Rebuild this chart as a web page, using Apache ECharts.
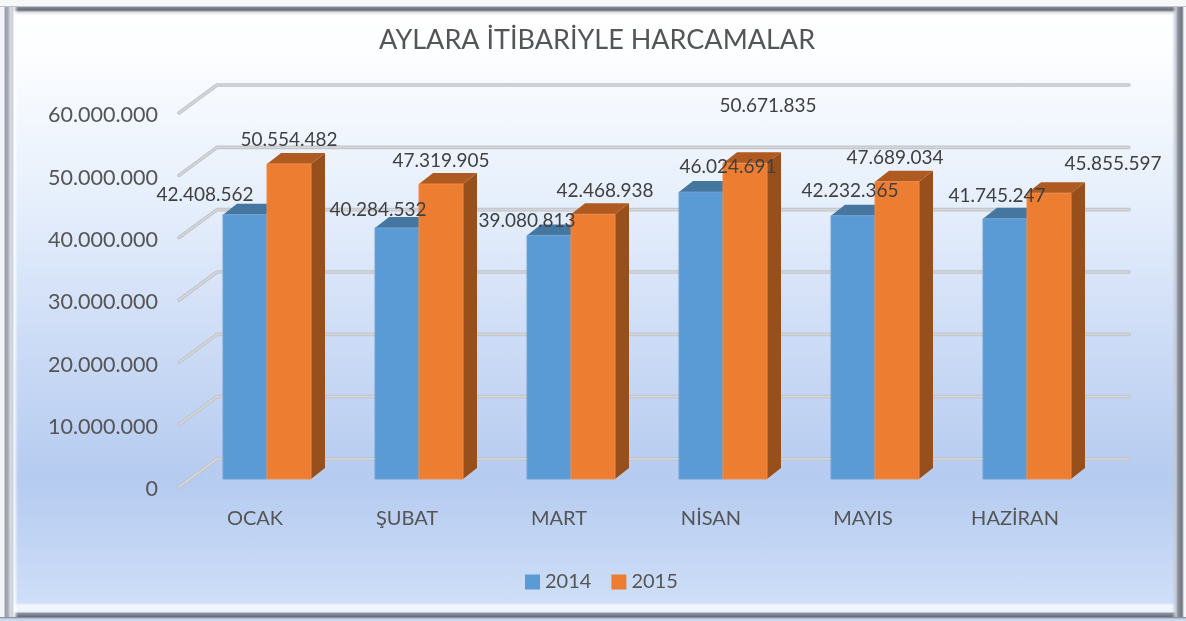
<!DOCTYPE html>
<html>
<head>
<meta charset="utf-8">
<title>AYLARA İTİBARİYLE HARCAMALAR</title>
<script src="https://cdn.jsdelivr.net/npm/echarts@6/dist/echarts.min.js"></script>
<style>
  html, body { margin: 0; padding: 0; background: #fff; }
  #wrap { position: relative; width: 1186px; height: 621px; overflow: hidden; }
  #main { width: 1186px; height: 621px;
    background: linear-gradient(180deg, #ffffff 0, #fdfeff 50px, #e6effc 200px, #cddcf6 340px, #b5cbf0 480px, #c1d4f3 540px, #cfdff8 605px); }
  .edge { position: absolute; pointer-events: none; }
  #fl { left: 0; top: 7px; width: 18px; height: 610px; background: linear-gradient(90deg, #f2f4f7 0, #f2f4f7 4px, #9da1a9 5px, #a6aab3 8px, #d4d8e0 10px, #cdd2dc 13px, rgba(255,255,255,.9) 14px, rgba(255,255,255,0) 18px); }
  #fr { right: 0; top: 7px; width: 14px; height: 610px; background: linear-gradient(90deg, rgba(255,255,255,0) 0, #c3c9d4 4px, #8b8f99 6px, #6f747e 10px, #aeb2ba 11px, #f4f6f9 12px); }
  #ft { left: 0; top: 0; width: 1186px; height: 16px; background: linear-gradient(180deg, #f6f7f9 0, #f6f7f9 6px, #8a8e96 7px, #666a72 10px, #d6d8dd 12px, rgba(255,255,255,0) 15px); }
  #fb { left: 0; bottom: 0; width: 1186px; height: 18px; background: linear-gradient(180deg, rgba(255,255,255,0) 0, #f2f6fd 2px, #eef3fb 9px, #8f96a2 10px, #666b75 14px, #aeb9cb 15px, #cddcf2 17px); }
</style>
</head>
<body>
<div id="wrap">
  <div id="main"></div>
  <div class="edge" id="ft"></div>
  <div class="edge" id="fb"></div>
  <div class="edge" id="fl"></div>
  <div class="edge" id="fr"></div>
</div>
<script>
const months = ["OCAK", "ŞUBAT", "MART", "NİSAN", "MAYIS", "HAZİRAN"];
const values2014 = [42408562, 40284532, 39080813, 46024691, 42232365, 41745247];
const values2015 = [50554482, 47319905, 42468938, 50671835, 47689034, 45855597];
const yTicks = [0, 10000000, 20000000, 30000000, 40000000, 50000000, 60000000];

// etiketlerin sütun üstüne göre kaydırması (orijinalde elle taşınmış)
const labelShift2014 = [[-40, -20], [-19, -18], [-22, -15], [27, -25], [-3, -25], [-8, -23]];
const labelShift2015 = [[0, -24], [0, -23], [12, -23], [23, -57], [-2, -24], [64, -29]];

const FONT = "Lato, 'Open Sans', sans-serif";
const barW = 44;
const depthX = 14, depthY = 11;   // sütun derinliği
const floorX = 12, floorY = 8;    // sütunların zemindeki kayması
const wallX = 38, wallY = 28;     // arka duvar kayması

const fmt = v => String(v).replace(/\B(?=(\d{3})+$)/g, ".");

function gridItem(params, api) {
  const y = api.coord([0, api.value(0)])[1];
  const x0 = params.coordSys.x;
  const x1 = x0 + params.coordSys.width + wallX;
  const pts = [[x0, y], [x0 + wallX, y - wallY], [x1, y - wallY]];
  const strokes = [["#bfc3c9", 3.6], ["#d4d6da", 1.6]];
  return {
    type: "group",
    children: strokes.map(s => ({
      type: "polyline",
      shape: { points: pts },
      style: { fill: null, stroke: s[0], lineWidth: s[1], lineCap: "round", lineJoin: "round" }
    }))
  };
}

function barItem(side, colors, shifts) {
  return function (params, api) {
    const idx = api.value(0);
    const val = api.value(1);
    const base = api.coord([idx, 0]);
    const top = api.coord([idx, val]);
    const cx = base[0] + floorX;
    const x0 = side === 0 ? cx - barW : cx;
    const x1 = x0 + barW;
    const y0 = base[1] - floorY;
    const y1 = top[1] - floorY;
    const shift = shifts[params.dataIndex];
    return {
      type: "group",
      children: [
        {
          type: "polygon",
          shape: { points: [[x1, y0], [x1 + depthX, y0 - depthY], [x1 + depthX, y1 - depthY], [x1, y1]] },
          style: { fill: colors.side }
        },
        {
          type: "polygon",
          shape: { points: [[x0, y1], [x1, y1], [x1 + depthX, y1 - depthY], [x0 + depthX, y1 - depthY]] },
          style: { fill: colors.top }
        },
        {
          type: "rect",
          shape: { x: x0, y: y1, width: barW, height: y0 - y1 },
          style: { fill: colors.front, stroke: colors.edge, lineWidth: 1 }
        },
        {
          type: "text",
          z2: 100,
          style: {
            text: fmt(val),
            x: (x0 + x1) / 2 + shift[0],
            y: y1 + shift[1],
            align: "center",
            verticalAlign: "middle",
            fill: "#404040",
            font: "19px " + FONT
          }
        }
      ]
    };
  };
}

const blue = { front: "#5b9bd5", top: "#44769f", side: "#3a6d9c", edge: "#70a3d3" };
const orange = { front: "#ed7d31", top: "#ae5a21", side: "#97501c", edge: "#ee8b48" };

const chart = echarts.init(document.getElementById("main"), null, { renderer: "canvas" });
chart.setOption({
  animation: false,
  backgroundColor: "transparent",
  textStyle: { fontFamily: FONT },
  title: {
    text: "AYLARA İTİBARİYLE HARCAMALAR",
    left: 374,
    top: 22,
    textStyle: { fontFamily: FONT, fontSize: 27, fontWeight: "normal", color: "#555" }
  },
  legend: {
    left: 520,
    top: 567,
    icon: "rect",
    itemWidth: 15,
    itemHeight: 15,
    itemGap: 20,
    data: ["2014", "2015"],
    textStyle: { fontFamily: FONT, fontSize: 20, color: "#555" }
  },
  grid: { left: 179, top: 113, width: 912, height: 374 },
  xAxis: {
    type: "category",
    data: months,
    axisLine: { show: false },
    axisTick: { show: false },
    axisLabel: { margin: 22, fontFamily: FONT, fontSize: 20, color: "#555" }
  },
  yAxis: {
    type: "value",
    min: 0,
    max: 60000000,
    interval: 10000000,
    axisLine: { show: false },
    axisTick: { show: false },
    splitLine: { show: false },
    axisLabel: {
      margin: 21,
      formatter: v => "{t|" + fmt(v) + "}",
      rich: { t: { fontFamily: FONT, fontSize: 21.5, color: "#555", padding: [5, 0, 0, 0] } }
    }
  },
  series: [
    {
      name: "grid",
      type: "custom",
      z: 1,
      silent: true,
      renderItem: gridItem,
      encode: { y: 0 },
      data: yTicks.map(v => [v])
    },
    {
      name: "2014",
      type: "custom",
      z: 2,
      renderItem: barItem(0, blue, labelShift2014),
      itemStyle: { color: blue.front },
      encode: { x: 0, y: 1 },
      data: values2014.map((v, i) => [i, v])
    },
    {
      name: "2015",
      type: "custom",
      z: 2,
      renderItem: barItem(1, orange, labelShift2015),
      itemStyle: { color: orange.front },
      encode: { x: 0, y: 1 },
      data: values2015.map((v, i) => [i, v])
    }
  ]
});
</script>
</body>
</html>
